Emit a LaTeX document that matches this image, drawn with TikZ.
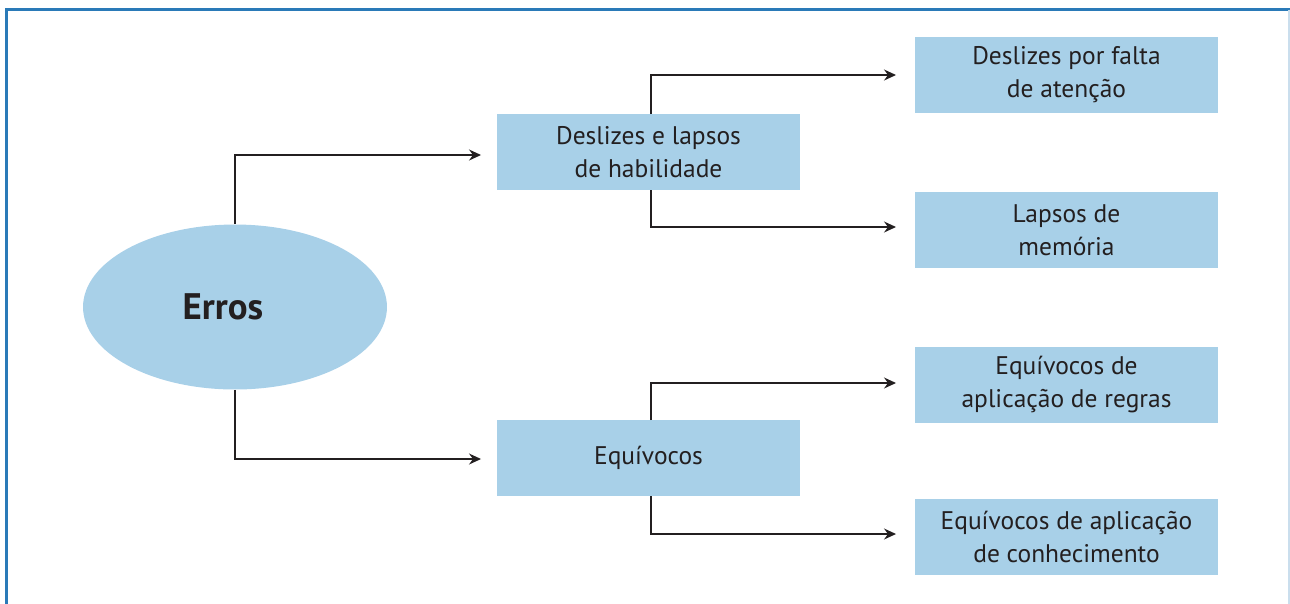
\documentclass[tikz,border=0pt]{standalone}
\usepackage{fontspec}
\setmainfont{PT Sans}
\usetikzlibrary{arrows.meta,shapes.geometric}
\definecolor{boxblue}{HTML}{A8D0E8}
\definecolor{framblue}{HTML}{2A7AB8}
\definecolor{txt}{HTML}{231F20}
\tikzset{
  px/.style={x=0.02cm,y=-0.02cm},
  box/.style={draw=none,fill=boxblue,minimum width=6.06cm,minimum height=1.52cm,align=center,inner sep=0pt,font=\fontsize{14.5}{18.5}\selectfont,text=txt},
  conn/.style={draw=txt,line width=0.7pt,-{Stealth[length=2.4mm,width=2.2mm,inset=0.8mm]}},
  line/.style={draw=txt,line width=0.7pt}
}
\begin{document}
\begin{tikzpicture}[px]
\useasboundingbox (0,0) rectangle (1290,603);
\draw[framblue,line width=1.3pt] (6.5,610) -- (6.5,9.5) -- (1295,9.5);
\draw[framblue!25,line width=1pt] (1289,9.5) -- (1289,610);
\node[ellipse,fill=boxblue,minimum width=6.08cm,minimum height=3.3cm,inner sep=0pt,
  label={[text=txt,font=\bfseries\fontsize{21}{24}\selectfont,xshift=-0.24cm]center:Erros}] (erros) at (235,307) {};
\node[box] (des) at (648.5,152) {Deslizes e lapsos\\de habilidade};
\node[box] (equ) at (648.5,458) {Equívocos};
\node[box] (r1) at (1066.5,74.5) {Deslizes por falta\\de atenção};
\node[box] (r2) at (1066.5,230) {Lapsos de\\memória};
\node[box] (r3) at (1066.5,384.5) {Equívocos de\\aplicação de regras};
\node[box] (r4) at (1066.5,537) {Equívocos de aplicação\\de conhecimento};
\coordinate (a1) at (235,155);
\coordinate (a2) at (235,459);
\coordinate (b1) at (481,155);
\coordinate (b2) at (481,459);
\draw[conn] (erros.north) -- (a1) -- (b1);
\draw[conn] (erros.south) -- (a2) -- (b2);
\coordinate (d) at (651,114);
\coordinate (e) at (651,190);
\coordinate (f) at (651,420);
\coordinate (g) at (651,496);
\coordinate (d1) at (651,75);
\coordinate (e1) at (651,227);
\coordinate (f1) at (651,383);
\coordinate (g1) at (651,534);
\coordinate (d2) at (896,75);
\coordinate (e2) at (896,227);
\coordinate (f2) at (896,383);
\coordinate (g2) at (896,534);
\draw[conn] (d) -- (d1) -- (d2);
\draw[conn] (e) -- (e1) -- (e2);
\draw[conn] (f) -- (f1) -- (f2);
\draw[conn] (g) -- (g1) -- (g2);
\end{tikzpicture}
\end{document}
